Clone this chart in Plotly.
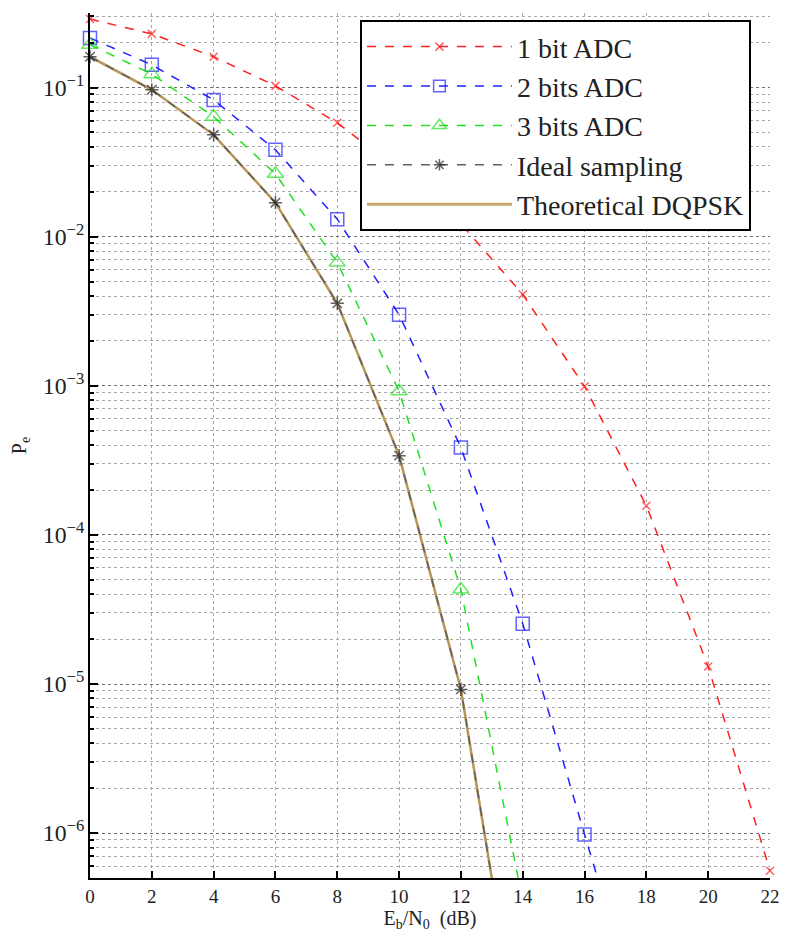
import math
import plotly.graph_objects as go

# ---------------- data ----------------
ebn0_1bit = [0, 2, 4, 6, 8, 10, 12, 14, 16, 18, 20, 22]
pe_1bit = [0.288, 0.229, 0.161, 0.1026, 0.058, 0.0277, 0.0122, 4.1e-3, 9.9e-4, 1.57e-4, 1.31e-5, 5.6e-7]

ebn0_2bit = [0, 2, 4, 6, 8, 10, 12, 14, 16, 18]
pe_2bit = [0.215, 0.142, 0.0826, 0.0382, 0.0131, 3.0e-3, 3.85e-4, 2.54e-5, 9.8e-7, 4.0e-8]

ebn0_3bit = [0, 2, 4, 6, 8, 10, 12, 14]
pe_3bit = [0.194, 0.123, 0.0638, 0.0264, 6.7e-3, 9.2e-4, 4.3e-5, 3.5e-7]

ebn0_ideal = [0, 2, 4, 6, 8, 10, 12, 14]
pe_ideal = [0.161, 0.0966, 0.0482, 0.0169, 3.57e-3, 3.4e-4, 9.2e-6, 2.7e-8]

ebn0_theory = [0, 2, 4, 6, 8, 10, 12, 14]
pe_theory = [0.161, 0.0966, 0.0482, 0.0169, 3.57e-3, 3.4e-4, 9.2e-6, 2.7e-8]

x_ticks = [0, 2, 4, 6, 8, 10, 12, 14, 16, 18, 20, 22]
y_min, y_max = 5e-7, 10 ** -0.5

series_names = ["1 bit ADC", "2 bits ADC", "3 bits ADC", "Ideal sampling", "Theoretical DQPSK"]

# ---------------- figure ----------------
FONT = "Liberation Serif, Times New Roman, serif"


def sizes(vals, s):
    # hide markers that fall outside the visible y range
    return [s if y_min <= v <= y_max else 0 for v in vals]


fig = go.Figure()

fig.add_trace(go.Scatter(
    x=ebn0_1bit, y=pe_1bit, name=series_names[0], mode="lines+markers",
    line=dict(color="#ff2020", width=1.5, dash="dash"),
    marker=dict(symbol="x-thin-open", size=sizes(pe_1bit, 8), color="#ff2020",
                line=dict(color="#ff2020", width=1.5)),
    cliponaxis=False, legendgroup="a"))

fig.add_trace(go.Scatter(
    x=ebn0_2bit, y=pe_2bit, name=series_names[1], mode="lines+markers",
    line=dict(color="#2020ff", width=1.5, dash="dash"),
    marker=dict(symbol="square-open", size=sizes(pe_2bit, 13), color="#2020ff",
                line=dict(color="#2020ff", width=1.5)),
    cliponaxis=False, legendgroup="b"))

fig.add_trace(go.Scatter(
    x=ebn0_3bit, y=pe_3bit, name=series_names[2], mode="lines+markers",
    line=dict(color="#20e020", width=1.5, dash="dash"),
    marker=dict(symbol="triangle-up-open", size=sizes(pe_3bit, 14), color="#20e020",
                line=dict(color="#20e020", width=1.5)),
    cliponaxis=False, legendgroup="c"))

fig.add_trace(go.Scatter(
    x=ebn0_theory, y=pe_theory, name=series_names[4], mode="lines",
    line=dict(color="#b89558", width=2.5),
    showlegend=False, legendgroup="e"))

fig.add_trace(go.Scatter(
    x=ebn0_ideal, y=pe_ideal, name=series_names[3], mode="lines+markers",
    line=dict(color="#606060", width=1.5, dash="dash"),
    marker=dict(symbol="asterisk-open", size=sizes(pe_ideal, 11), color="#202020",
                line=dict(color="#202020", width=1.5)),
    cliponaxis=False, legendgroup="d"))

fig.add_trace(go.Scatter(
    x=[None], y=[None], name=series_names[4], mode="lines",
    line=dict(color="#c8a870", width=3), legendgroup="e"))

grid_major = "#707070"
grid_minor = "#a8a8a8"

fig.update_xaxes(
    range=[0, 22], tickvals=x_ticks, ticktext=[str(v) for v in x_ticks],
    showline=True, linecolor="black", linewidth=2, mirror=False,
    ticks="inside", ticklen=7, tickwidth=1.5, tickcolor="black",
    showgrid=True, gridcolor=grid_minor, griddash="dot", gridwidth=1,
    zeroline=False, automargin=False,
    tickfont=dict(family=FONT, size=19, color="#222"),
    title=dict(text="E<sub>b</sub>/N<sub>0</sub>  (dB)", font=dict(family=FONT, size=20, color="#222"),
               standoff=4),
)

fig.update_yaxes(
    type="log", range=[math.log10(y_min), math.log10(y_max)],
    dtick=1, exponentformat="power",
    showline=True, linecolor="black", linewidth=2, mirror=False,
    ticks="inside", ticklen=8, tickwidth=1.5, tickcolor="black",
    showgrid=True, gridcolor=grid_major, griddash="dot", gridwidth=1.2,
    minor=dict(showgrid=True, gridcolor=grid_minor, griddash="dot", gridwidth=1,
               ticks="inside", ticklen=4, tickcolor="black", dtick="D1"),
    zeroline=False, automargin=False,
    tickfont=dict(family=FONT, size=19, color="#222"),
    title=dict(text="P<sub>e</sub>", font=dict(family=FONT, size=20, color="#222"), standoff=28),
)

fig.update_layout(
    width=779, height=929,
    margin=dict(l=82, r=17, t=5, b=59),
    paper_bgcolor="white", plot_bgcolor="white",
    font=dict(family=FONT, color="#222"),
    showlegend=True,
    legend=dict(
        x=0.397, xanchor="left", y=0.992, yanchor="top",
        bgcolor="white", bordercolor="black", borderwidth=2,
        font=dict(family=FONT, size=28, color="#222"),
        itemwidth=145, tracegroupgap=0, traceorder="grouped",
    ),
)

fig.write_html("out.html")
